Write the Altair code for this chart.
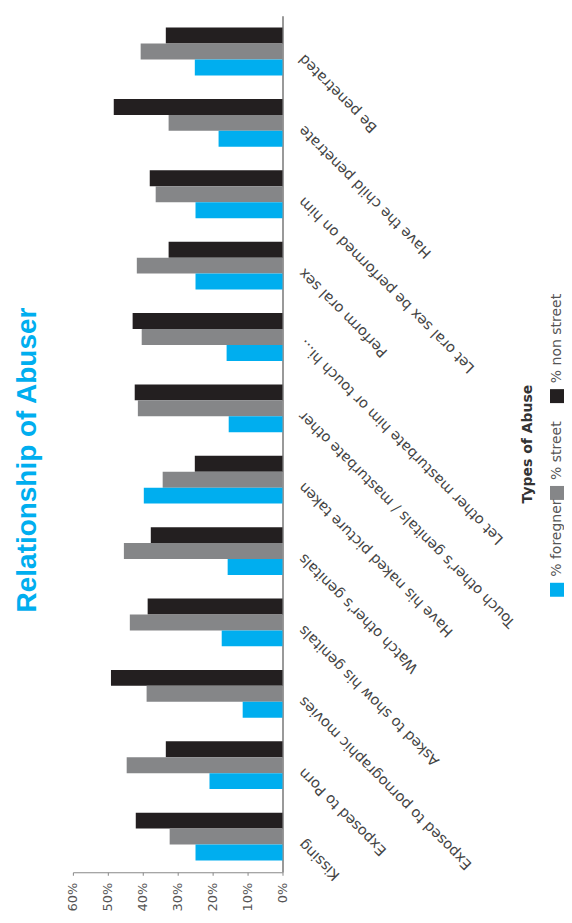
import altair as alt
import pandas as pd

categories = [
    "Be penetrated",
    "Have the child penetrate",
    "Let oral sex be performed on him",
    "Perform oral sex",
    "Let other masturbate him or touch hi...",
    "Touch other's genitals / masturbate other",
    "Have his naked picture taken",
    "Watch other's genitals",
    "Asked to show his genitals",
    "Exposed to pornographic movies",
    "Exposed to Porn",
    "Kissing",
]
series = ["% non street", "% street", "% foregner"]
non_street = [33.4, 48.3, 38.0, 32.6, 42.9, 42.3, 25.1, 37.7, 38.6, 49.1, 33.4, 42.0]
street = [40.6, 32.6, 36.3, 41.7, 40.3, 41.4, 34.3, 45.4, 43.7, 38.9, 44.6, 32.3]
foregner = [25.1, 18.3, 24.9, 24.9, 16.0, 15.4, 39.7, 15.7, 17.4, 11.4, 20.9, 24.9]
colors = ["#231F20", "#858688", "#00AEEF"]
x_ticks = [0, 10, 20, 30, 40, 50, 60]
chart_title = ["Relationship of Abuser"]
legend_title = ["Types of Abuse"]

rows = []
for s, vals in zip(series, [non_street, street, foregner]):
    for c, v in zip(categories, vals):
        rows.append({"category": c, "series": s, "value": v})
df = pd.DataFrame(rows)
cat_df = pd.DataFrame({"category": categories})

PLOT_H = 858

color_enc = alt.Color("series:N", scale=alt.Scale(domain=series, range=colors), legend=None)
y_enc = alt.Y(
    "category:N",
    sort=categories,
    scale=alt.Scale(paddingInner=0.33, paddingOuter=0.165),
    axis=alt.Axis(orient="right", title=None, labels=False, ticks=False,
                  domainColor="#999", domainWidth=2),
)
x_scale = alt.Scale(domain=[0, 60], reverse=True, nice=False)
x_axis = alt.Axis(
    values=x_ticks, labelExpr="datum.value + '%'", labelAngle=270,
    title=None, grid=False, domainColor="#888", tickColor="#888",
    tickSize=3, labelPadding=7, labelFont="DejaVu Sans",
    labelFontSize=13, labelColor="#555", labelOverlap=False,
)

bars = alt.Chart(df).mark_bar().encode(
    y=y_enc,
    yOffset=alt.YOffset("series:N", sort=series, scale=alt.Scale(paddingInner=0, paddingOuter=0)),
    x=alt.X("value:Q", scale=x_scale, axis=x_axis),
    color=color_enc,
)

cat_labels = alt.Chart(cat_df).mark_text(
    angle=225, align="right", baseline="middle", dx=-17, dy=10,
    font="DejaVu Sans", fontSize=14.5, color="#444",
).encode(
    y=alt.Y("category:N", sort=categories),
    x=alt.XDatum(0, scale=x_scale, axis=x_axis),
    text="category:N",
)

main_title = alt.Chart(pd.DataFrame({"t": chart_title})).mark_text(
    angle=270, align="center", baseline="middle", dx=-16, dy=-150,
    font="Liberation Sans", fontSize=28, fontWeight="bold", color="#00AEEF",
).encode(text="t:N")

main = (bars + cat_labels + main_title).properties(width=210, height=PLOT_H)

leg_df = pd.DataFrame({"series": series})
leg_y = alt.Y("series:N", sort=series,
              scale=alt.Scale(type="point", range=[381, 575], padding=0), axis=None)
squares = alt.Chart(leg_df).mark_square(size=196, opacity=1).encode(y=leg_y, color=color_enc)
labels = alt.Chart(leg_df).mark_text(
    angle=270, align="left", baseline="middle", dx=13,
    font="DejaVu Sans", fontSize=14, color="#555",
).encode(y=leg_y, text="series:N")
leg_title = alt.Chart(pd.DataFrame({"t": legend_title})).mark_text(
    angle=270, align="center", baseline="middle", dy=-29,
    font="DejaVu Sans", fontSize=14, fontWeight="bold", color="#333",
).encode(text="t:N")
legend = (squares + labels + leg_title).properties(width=14, height=PLOT_H)

chart = alt.hconcat(main, legend, spacing=268, bounds="flush").properties(
    padding={"left": 5, "top": 7, "right": 0, "bottom": 0}
).configure_view(stroke=None)

chart.save("out.html", embed_options={"renderer": "svg", "actions": False})
